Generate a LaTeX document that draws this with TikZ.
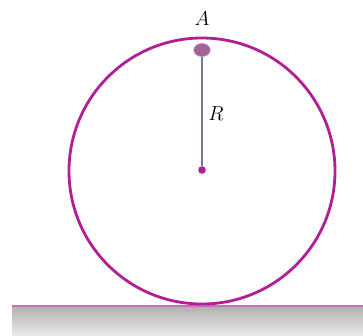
\documentclass[tikz,border=0pt]{standalone}
\usepackage{amsmath,amssymb}
\usetikzlibrary{arrows.meta,shapes.geometric}
\definecolor{hoop}{RGB}{178,30,150}
\definecolor{floorline}{RGB}{196,110,196}
\definecolor{dotA}{RGB}{160,100,150}
\definecolor{spoke}{RGB}{118,122,150}

\begin{document}
\begin{tikzpicture}[x=0.03cm, y=-0.03cm, every node/.style={font=\LARGE}]
	\useasboundingbox (0,0) rectangle (363,336);
	% ground
	\shade[top color=black!30, bottom color=black!8] (12,307) rectangle (363,336);
	\draw[floorline, line width=2pt] (12,306) -- (363,306);
	% hoop
	\draw[hoop, line width=2.4pt] (202,171) circle (133);
	\node[circle, fill=hoop, inner sep=0pt, minimum size=6.5pt] (O) at (202,170) {};
	\node[ellipse, fill=dotA, draw=hoop!60, line width=0.6pt, inner sep=0pt, minimum width=14pt, minimum height=11pt] (A) at (202,50) {};
	\draw[spoke, line width=1.3pt] (A) -- (O);
	\node (labA) at (202,19) {$A$};
	\node (labR) at (216,114) {$R$};
\end{tikzpicture}
\end{document}
